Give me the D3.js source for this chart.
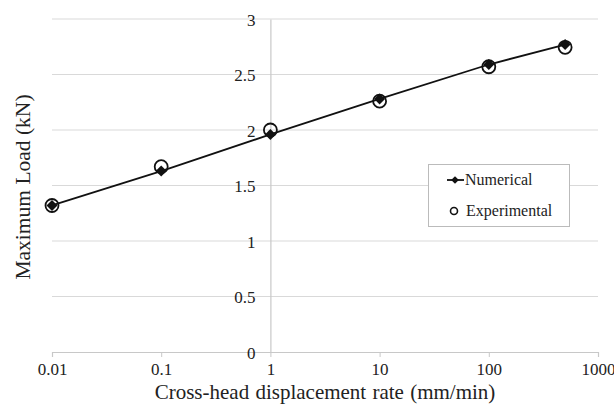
<!DOCTYPE html>
<html><head><meta charset="utf-8">
<script src="https://cdn.jsdelivr.net/npm/d3@7"></script>
</head><body style="margin:0;background:#fff">
<script>
const rates = [0.01, 0.1, 1, 10, 100, 500];
const numerical = [1.32, 1.63, 1.96, 2.28, 2.59, 2.77];
const experimental = [1.32, 1.67, 2.0, 2.26, 2.57, 2.745];
const xTicks = [0.01, 0.1, 1, 10, 100, 1000];
const yTicks = [0, 0.5, 1, 1.5, 2, 2.5, 3];

const W = 614, H = 405;
const FONT = "'Liberation Serif', serif";
const svg = d3.select("body").append("svg").attr("width", W).attr("height", H).style("display", "block");
const x = d3.scaleLog().domain([0.01, 1000]).range([52, 598]);
const y = d3.scaleLinear().domain([0, 3]).range([352, 19]);

// gridlines
svg.append("g").selectAll("line").data(yTicks.filter(d => d > 0)).join("line")
  .attr("x1", x(0.01)).attr("x2", x(1000))
  .attr("y1", d => y(d)).attr("y2", d => y(d))
  .attr("stroke", "#d9d9d9").attr("stroke-width", 1.2);

// x axis
const xAxis = svg.append("g").attr("transform", `translate(0,${y(0)})`)
  .call(d3.axisBottom(x).tickValues(xTicks).tickFormat(d => String(d)).tickSize(5).tickPadding(6));
xAxis.attr("font-family", null).attr("font-size", null);
xAxis.select(".domain").attr("stroke", "#c8c8c8").attr("stroke-width", 1.2);
xAxis.selectAll(".tick line").attr("stroke", "#c8c8c8");
xAxis.selectAll("text").style("font-family", FONT).style("font-size", "17px").attr("fill", "#222");

// y axis at x = 1
const yAxis = svg.append("g").attr("transform", `translate(${x(1)},0)`)
  .call(d3.axisLeft(y).tickValues(yTicks).tickFormat(d => String(d)).tickSize(0).tickPadding(15));
yAxis.attr("font-family", null).attr("font-size", null);
yAxis.select(".domain").attr("stroke", "#c8c8c8").attr("stroke-width", 1.2);
yAxis.selectAll("text").style("font-family", FONT).style("font-size", "17px").attr("fill", "#222").attr("dy", "0.36em");

// line
const line = d3.line().x((d, i) => x(rates[i])).y(d => y(d));
svg.append("path").datum(numerical).attr("d", line)
  .attr("fill", "none").attr("stroke", "#111").attr("stroke-width", 1.8);

// experimental circles
svg.append("g").selectAll("circle").data(experimental).join("circle")
  .attr("cx", (d, i) => x(rates[i])).attr("cy", d => y(d)).attr("r", 6.5)
  .attr("fill", "none").attr("stroke", "#111").attr("stroke-width", 1.8);

// numerical diamonds (rotated squares)
const sq = d3.symbol().type(d3.symbolSquare).size(60);
svg.append("g").selectAll("path").data(numerical).join("path")
  .attr("d", sq)
  .attr("transform", (d, i) => `translate(${x(rates[i])},${y(d)}) rotate(45)`)
  .attr("fill", "#111");

// legend
const lg = svg.append("g");
lg.append("rect").attr("x", 428.5).attr("y", 164.5).attr("width", 141).attr("height", 62)
  .attr("fill", "#fff").attr("stroke", "#bbb");
lg.append("line").attr("x1", 447).attr("x2", 464).attr("y1", 180).attr("y2", 180)
  .attr("stroke", "#111").attr("stroke-width", 1.8);
lg.append("path").attr("d", d3.symbol().type(d3.symbolSquare).size(30)).attr("transform", "translate(455,180) rotate(45)").attr("fill", "#111");
lg.append("text").attr("x", 465).attr("y", 185).style("font-family", FONT).style("font-size", "16px").attr("fill", "#222").text("Numerical");
lg.append("circle").attr("cx", 454).attr("cy", 211).attr("r", 3.5).attr("fill", "none").attr("stroke", "#111").attr("stroke-width", 1.6);
lg.append("text").attr("x", 466).attr("y", 216).style("font-family", FONT).style("font-size", "16px").attr("fill", "#222").text("Experimental");

// titles
svg.append("text").attr("x", 325).attr("y", 399).attr("text-anchor", "middle").attr("fill", "#222")
  .style("font-family", FONT).style("font-size", "21px").style("word-spacing", "1px").text("Cross-head displacement rate (mm/min)");
svg.append("text").attr("transform", "translate(30,187) rotate(-90)").attr("text-anchor", "middle").attr("fill", "#222")
  .style("font-family", FONT).style("font-size", "21.5px").text("Maximum Load (kN)");
</script>
</body></html>
